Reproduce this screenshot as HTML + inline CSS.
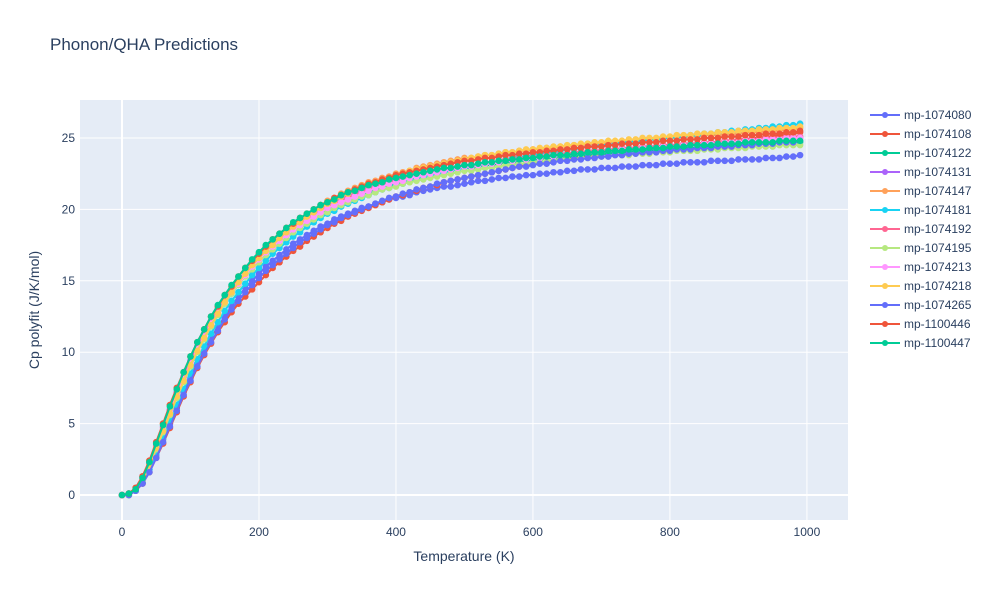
<!DOCTYPE html>
<html><head><meta charset="utf-8"><style>
body{margin:0;background:#fff;font-family:"Liberation Sans",Arial,sans-serif;}
svg text{font-family:"Liberation Sans",Arial,sans-serif;fill:#2a3f5f;}
</style></head><body>
<svg id="chart" width="1000" height="600" xmlns="http://www.w3.org/2000/svg">
<rect width="1000" height="600" fill="#fff"/>
<text x="50" y="50" font-size="17">Phonon/QHA Predictions</text>
<rect x="80" y="100" width="768" height="420" fill="#e5ecf6"/>
<g id="grid"></g><g id="ticks"></g><g id="series"></g><g id="legend"></g>
<text x="464" y="561" font-size="14" text-anchor="middle">Temperature (K)</text>
<text transform="translate(39,310) rotate(-90)" font-size="14" text-anchor="middle">Cp polyfit (J/K/mol)</text>
</svg>
<script>
const xTicks=[0,200,400,600,800,1000];
const yTicks=[0,5,10,15,20,25];
const names=["mp-1074080","mp-1074108","mp-1074122","mp-1074131","mp-1074147","mp-1074181","mp-1074192","mp-1074195","mp-1074213","mp-1074218","mp-1074265","mp-1100446","mp-1100447"];
const colors=["#636efa","#EF553B","#00cc96","#ab63fa","#FFA15A","#19d3f3","#FF6692","#B6E880","#FF97FF","#FECB52","#636efa","#EF553B","#00cc96"];
const temps=[0,10,20,30,40,50,60,70,80,90,100,110,120,130,140,150,160,170,180,190,200,210,220,230,240,250,260,270,280,290,300,310,320,330,340,350,360,370,380,390,400,410,420,430,440,450,460,470,480,490,500,510,520,530,540,550,560,570,580,590,600,610,620,630,640,650,660,670,680,690,700,710,720,730,740,750,760,770,780,790,800,810,820,830,840,850,860,870,880,890,900,910,920,930,940,950,960,970,980,990];
const s1074080=[0,0,0.3,0.9,1.8,2.8,3.9,5.0,6.1,7.2,8.2,9.2,10.1,11.0,11.8,12.5,13.2,13.9,14.5,15.0,15.5,16.0,16.4,16.8,17.2,17.6,17.9,18.2,18.5,18.8,19.0,19.3,19.5,19.7,19.9,20.1,20.2,20.4,20.5,20.7,20.8,20.9,21.0,21.2,21.3,21.4,21.5,21.6,21.6,21.7,21.8,21.9,22.0,22.0,22.1,22.2,22.2,22.3,22.3,22.4,22.4,22.5,22.5,22.6,22.6,22.7,22.7,22.8,22.8,22.8,22.9,22.9,22.9,23.0,23.0,23.0,23.1,23.1,23.1,23.2,23.2,23.2,23.3,23.3,23.3,23.3,23.4,23.4,23.4,23.4,23.5,23.5,23.5,23.5,23.6,23.6,23.6,23.7,23.7,23.8];
const s1074108=[0,0,0.3,0.8,1.6,2.6,3.6,4.7,5.8,6.9,7.9,8.9,9.8,10.6,11.4,12.1,12.8,13.4,13.9,14.4,14.9,15.4,15.9,16.3,16.7,17.1,17.4,17.8,18.1,18.4,18.7,19.0,19.2,19.5,19.7,19.9,20.1,20.3,20.5,20.7,20.9,21.0,21.2,21.3,21.5,21.6,21.7,21.9,22.0,22.1,22.2,22.3,22.4,22.5,22.6,22.7,22.8,22.9,23.0,23.1,23.2,23.3,23.3,23.4,23.5,23.5,23.6,23.7,23.7,23.8,23.9,23.9,24.0,24.0,24.1,24.1,24.2,24.2,24.3,24.3,24.4,24.4,24.5,24.5,24.6,24.6,24.7,24.7,24.8,24.8,24.9,24.9,25.0,25.0,25.1,25.1,25.2,25.2,25.3,25.4];
const s1074122=[0,0,0.4,1.1,2.1,3.3,4.5,5.7,6.9,8.0,9.1,10.1,11.0,11.9,12.7,13.5,14.2,14.8,15.4,16.0,16.5,17.0,17.4,17.8,18.2,18.6,18.9,19.2,19.5,19.8,20.0,20.3,20.5,20.7,20.9,21.1,21.2,21.4,21.6,21.7,21.8,22.0,22.1,22.2,22.3,22.4,22.5,22.6,22.7,22.8,22.9,22.9,23.0,23.1,23.1,23.2,23.3,23.3,23.4,23.4,23.5,23.5,23.6,23.6,23.7,23.7,23.7,23.8,23.8,23.9,23.9,23.9,24.0,24.0,24.0,24.1,24.1,24.1,24.2,24.2,24.2,24.3,24.3,24.3,24.3,24.4,24.4,24.4,24.5,24.5,24.5,24.5,24.6,24.6,24.6,24.6,24.7,24.7,24.7,24.7];
const s1074131=[0,0.1,0.5,1.3,2.3,3.5,4.8,6.0,7.2,8.3,9.4,10.4,11.3,12.2,13.0,13.7,14.4,15.0,15.6,16.2,16.7,17.2,17.6,18.0,18.4,18.8,19.1,19.4,19.7,20.0,20.2,20.5,20.7,20.9,21.1,21.3,21.5,21.6,21.8,21.9,22.1,22.2,22.3,22.4,22.5,22.6,22.7,22.8,22.9,23.0,23.1,23.1,23.2,23.3,23.3,23.4,23.5,23.5,23.6,23.6,23.7,23.7,23.8,23.8,23.9,23.9,24.0,24.0,24.0,24.1,24.1,24.2,24.2,24.2,24.3,24.3,24.3,24.4,24.4,24.4,24.5,24.5,24.5,24.6,24.6,24.6,24.7,24.7,24.7,24.8,24.8,24.8,24.8,24.9,24.9,24.9,24.9,25.0,25.0,25.0];
const s1074147=[0,0.1,0.5,1.3,2.4,3.7,5.0,6.3,7.5,8.6,9.7,10.7,11.6,12.5,13.2,14.0,14.6,15.3,15.9,16.4,16.9,17.4,17.9,18.3,18.7,19.0,19.4,19.7,20.0,20.3,20.6,20.8,21.1,21.3,21.5,21.7,21.9,22.0,22.2,22.3,22.5,22.6,22.7,22.9,23.0,23.1,23.2,23.3,23.4,23.5,23.6,23.6,23.7,23.8,23.8,23.9,24.0,24.0,24.1,24.1,24.2,24.2,24.3,24.3,24.4,24.4,24.5,24.5,24.6,24.6,24.6,24.7,24.7,24.8,24.8,24.8,24.9,24.9,24.9,25.0,25.0,25.0,25.1,25.1,25.1,25.2,25.2,25.2,25.3,25.3,25.3,25.4,25.4,25.4,25.5,25.5,25.5,25.6,25.6,25.7];
const s1074181=[0,0,0.3,0.9,1.8,2.9,4.0,5.2,6.3,7.4,8.5,9.5,10.4,11.3,12.1,12.9,13.6,14.2,14.8,15.4,15.9,16.4,16.9,17.3,17.7,18.1,18.4,18.8,19.1,19.4,19.7,19.9,20.2,20.4,20.6,20.8,21.0,21.2,21.4,21.5,21.7,21.8,22.0,22.1,22.2,22.4,22.5,22.6,22.7,22.8,22.9,23.0,23.1,23.2,23.3,23.4,23.5,23.6,23.7,23.7,23.8,23.9,24.0,24.0,24.1,24.2,24.2,24.3,24.4,24.4,24.5,24.5,24.6,24.7,24.7,24.8,24.8,24.9,24.9,25.0,25.0,25.1,25.1,25.2,25.2,25.3,25.3,25.4,25.4,25.5,25.5,25.6,25.6,25.7,25.7,25.8,25.8,25.9,25.9,26.0];
const s1074192=[0,0.1,0.4,1.2,2.2,3.4,4.7,5.9,7.1,8.2,9.3,10.3,11.2,12.1,12.9,13.6,14.3,14.9,15.5,16.1,16.6,17.1,17.5,17.9,18.3,18.7,19.0,19.3,19.6,19.9,20.2,20.4,20.6,20.8,21.0,21.2,21.4,21.6,21.7,21.9,22.0,22.1,22.3,22.4,22.5,22.6,22.7,22.8,22.9,23.0,23.1,23.1,23.2,23.3,23.3,23.4,23.5,23.5,23.6,23.6,23.7,23.7,23.8,23.8,23.9,23.9,24.0,24.0,24.1,24.1,24.1,24.2,24.2,24.3,24.3,24.3,24.4,24.4,24.4,24.5,24.5,24.5,24.6,24.6,24.6,24.7,24.7,24.7,24.8,24.8,24.8,24.9,24.9,24.9,25.0,25.0,25.0,25.1,25.1,25.1];
const s1074195=[0,0,0.4,1.0,2.0,3.2,4.4,5.6,6.8,7.9,9.0,10.0,10.9,11.8,12.6,13.4,14.1,14.7,15.3,15.8,16.3,16.8,17.2,17.6,18.0,18.4,18.7,19.0,19.3,19.6,19.8,20.1,20.3,20.5,20.7,20.9,21.0,21.2,21.4,21.5,21.6,21.8,21.9,22.0,22.1,22.2,22.3,22.4,22.5,22.6,22.7,22.7,22.8,22.9,22.9,23.0,23.1,23.1,23.2,23.2,23.3,23.3,23.4,23.4,23.5,23.5,23.5,23.6,23.6,23.7,23.7,23.7,23.8,23.8,23.8,23.9,23.9,23.9,24.0,24.0,24.0,24.1,24.1,24.1,24.1,24.2,24.2,24.2,24.3,24.3,24.3,24.3,24.4,24.4,24.4,24.4,24.5,24.5,24.5,24.5];
const s1074213=[0,0.1,0.4,1.1,2.1,3.3,4.6,5.8,7.0,8.1,9.2,10.2,11.1,12.0,12.8,13.5,14.2,14.8,15.4,16.0,16.5,17.0,17.4,17.8,18.2,18.6,18.9,19.2,19.5,19.8,20.1,20.3,20.5,20.7,20.9,21.1,21.3,21.5,21.6,21.8,21.9,22.0,22.2,22.3,22.4,22.5,22.6,22.7,22.8,22.9,23.0,23.0,23.1,23.2,23.2,23.3,23.4,23.4,23.5,23.5,23.6,23.6,23.7,23.7,23.8,23.8,23.9,23.9,24.0,24.0,24.0,24.1,24.1,24.2,24.2,24.2,24.3,24.3,24.3,24.4,24.4,24.4,24.5,24.5,24.5,24.6,24.6,24.6,24.7,24.7,24.7,24.8,24.8,24.8,24.9,24.9,24.9,25.0,25.0,25.0];
const s1074218=[0,0.1,0.4,1.1,2.1,3.3,4.5,5.7,6.9,8.0,9.1,10.1,11.0,11.9,12.7,13.5,14.2,14.9,15.5,16.1,16.6,17.1,17.5,18.0,18.4,18.8,19.1,19.5,19.8,20.1,20.4,20.6,20.9,21.1,21.3,21.5,21.7,21.9,22.1,22.2,22.4,22.5,22.7,22.8,22.9,23.0,23.1,23.2,23.3,23.4,23.5,23.6,23.7,23.8,23.8,23.9,24.0,24.0,24.1,24.2,24.2,24.3,24.3,24.4,24.4,24.5,24.5,24.6,24.6,24.7,24.7,24.8,24.8,24.8,24.9,24.9,25.0,25.0,25.0,25.1,25.1,25.2,25.2,25.2,25.3,25.3,25.3,25.4,25.4,25.4,25.5,25.5,25.5,25.6,25.6,25.6,25.7,25.7,25.7,25.8];
const s1074265=[0,0,0.3,0.8,1.6,2.6,3.7,4.8,5.9,7.0,8.0,9.0,9.9,10.7,11.5,12.3,13.0,13.6,14.2,14.7,15.2,15.7,16.1,16.5,16.9,17.3,17.7,18.0,18.3,18.6,18.9,19.1,19.4,19.6,19.8,20.0,20.2,20.4,20.6,20.8,20.9,21.1,21.2,21.4,21.5,21.6,21.8,21.9,22.0,22.1,22.2,22.3,22.4,22.5,22.6,22.7,22.8,22.9,23.0,23.0,23.1,23.2,23.2,23.3,23.4,23.4,23.5,23.5,23.6,23.6,23.7,23.7,23.8,23.8,23.9,23.9,24.0,24.0,24.0,24.1,24.1,24.2,24.2,24.2,24.3,24.3,24.3,24.4,24.4,24.4,24.5,24.5,24.5,24.6,24.6,24.6,24.7,24.7,24.7,24.8];
const s1100446=[0,0.1,0.5,1.3,2.4,3.7,5.0,6.3,7.5,8.6,9.7,10.7,11.6,12.5,13.2,14.0,14.6,15.3,15.9,16.4,16.9,17.4,17.9,18.3,18.7,19.0,19.4,19.7,20.0,20.3,20.5,20.8,21.0,21.2,21.4,21.6,21.8,21.9,22.1,22.2,22.4,22.5,22.6,22.7,22.8,22.9,23.0,23.1,23.2,23.3,23.4,23.4,23.5,23.6,23.6,23.7,23.8,23.8,23.9,23.9,24.0,24.0,24.1,24.1,24.2,24.2,24.3,24.3,24.4,24.4,24.4,24.5,24.5,24.6,24.6,24.6,24.7,24.7,24.7,24.8,24.8,24.8,24.9,24.9,24.9,25.0,25.0,25.0,25.1,25.1,25.1,25.2,25.2,25.2,25.3,25.3,25.3,25.4,25.4,25.5];
const s1100447=[0,0.1,0.4,1.2,2.3,3.6,4.9,6.2,7.4,8.6,9.7,10.7,11.6,12.5,13.3,14.0,14.7,15.3,15.9,16.5,17.0,17.5,17.9,18.3,18.7,19.1,19.4,19.7,20.0,20.3,20.5,20.7,21.0,21.2,21.3,21.5,21.7,21.8,21.9,22.1,22.2,22.3,22.4,22.5,22.6,22.7,22.8,22.9,22.9,23.0,23.1,23.1,23.2,23.3,23.3,23.4,23.4,23.5,23.5,23.6,23.6,23.7,23.7,23.8,23.8,23.8,23.9,23.9,24.0,24.0,24.0,24.1,24.1,24.1,24.2,24.2,24.2,24.3,24.3,24.3,24.4,24.4,24.4,24.5,24.5,24.5,24.5,24.6,24.6,24.6,24.6,24.7,24.7,24.7,24.7,24.7,24.8,24.8,24.8,24.8];
const seriesValues=[s1074080,s1074108,s1074122,s1074131,s1074147,s1074181,s1074192,s1074195,s1074213,s1074218,s1074265,s1100446,s1100447];

const NS="http://www.w3.org/2000/svg";
const X0=80,X1=848,Y0=100,Y1=520;
const xMin=-61.3,xMax=1060,yMin=-1.75,yMax=27.66;
function sx(v){return X0+(v-xMin)/(xMax-xMin)*(X1-X0);}
function sy(v){return Y1-(v-yMin)/(yMax-yMin)*(Y1-Y0);}
function mk(tag,attrs,parent){const e=document.createElementNS(NS,tag);for(const k in attrs)e.setAttribute(k,attrs[k]);parent.appendChild(e);return e;}
const grid=document.getElementById('grid'),ticks=document.getElementById('ticks'),ser=document.getElementById('series'),leg=document.getElementById('legend');
xTicks.forEach(t=>{const x=sx(t);
 const l=mk('line',{x1:x,x2:x,y1:Y0,y2:Y1,stroke:'#fff','stroke-width':t===0?2:1},grid);
 
 
 const tx=mk('text',{x:x,y:536,'font-size':12,'text-anchor':'middle'},ticks);tx.textContent=t;
 
 
});
yTicks.forEach(t=>{const y=sy(t);
 const l=mk('line',{x1:X0,x2:X1,y1:y,y2:y,stroke:'#fff','stroke-width':t===0?2:1},grid);
 
 
 const tx=mk('text',{x:X0-5,y:y+4,'font-size':12,'text-anchor':'end'},ticks);tx.textContent=t;
 
 
});
seriesValues.forEach((vals,i)=>{
 const g=mk('g',{},ser);
 
 
 const pts=vals.map((v,j)=>sx(temps[j]).toFixed(1)+','+sy(v).toFixed(1)).join(' ');
 const pl=mk('polyline',{points:pts,fill:'none',stroke:colors[i],'stroke-width':2},g);
 
 
 vals.forEach((v,j)=>{const c=mk('circle',{cx:sx(temps[j]),cy:sy(v),r:3.3,fill:colors[i]},g);
  
  });
 const ly=115+19*i;
 const lg=mk('g',{},leg);
 
 
 mk('line',{x1:870,x2:900,y1:ly,y2:ly,stroke:colors[i],'stroke-width':2},lg);
 mk('circle',{cx:885,cy:ly,r:3,fill:colors[i]},lg);
 const t=mk('text',{x:904,y:ly+4,'font-size':12},lg);t.textContent=names[i];
});
</script>
</body></html>
